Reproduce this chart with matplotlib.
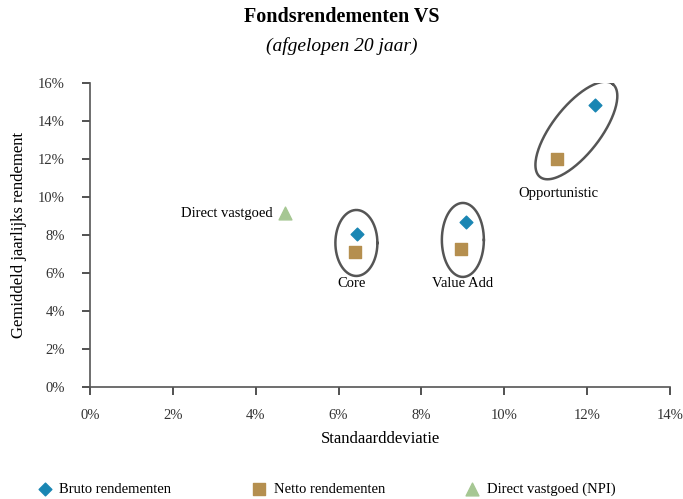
import numpy as np
from matplotlib import pyplot as plt
from matplotlib.ticker import FuncFormatter

plt.rcParams['font.family'] = ['Liberation Serif', 'DejaVu Serif']

# data (in %)
labels = ['Core', 'Value Add', 'Opportunistic']
bruto_x = [6.45, 9.08, 12.2]
bruto_y = [8.05, 8.7, 14.85]
netto_x = [6.4, 8.95, 11.28]
netto_y = [7.1, 7.25, 12.0]
direct_x = [4.7]
direct_y = [9.15]

blue = '#1a86b3'
gold = '#b58f4f'
green = '#a6c793'
grey = '#555555'

fig = plt.figure(figsize=(6.83, 4.99), dpi=100)
ax = fig.add_axes([90/683, 1-387/499, 580/683, 304/499])
ax.set_xlim(0, 14)
ax.set_ylim(0, 16)

ax.scatter(bruto_x, bruto_y, marker='D', s=42, color=blue, zorder=3, label='Bruto rendementen')
ax.scatter(netto_x, netto_y, marker='s', s=80, color=gold, zorder=3, label='Netto rendementen')
ax.scatter(direct_x, direct_y, marker='^', s=85, color=green, zorder=3, label='Direct vastgoed (NPI)')

# ellipses: center in data, semi-axes in pixels, angle in pixel space
ell = [(6.43, 7.58, 21, 33, 0), (9.0, 7.74, 21, 37, 0), (11.74, 13.5, 59, 24, 52)]
t = np.linspace(0, 2*np.pi, 200)
for (cx, cy, a, b, ang) in ell:
    c = ax.transData.transform((cx, cy))
    th = np.radians(ang)
    px = c[0] + a*np.cos(t)*np.cos(th) - b*np.sin(t)*np.sin(th)
    py = c[1] + a*np.cos(t)*np.sin(th) + b*np.sin(t)*np.cos(th)
    pts = ax.transData.inverted().transform(np.column_stack([px, py]))
    ax.plot(pts[:, 0], pts[:, 1], color=grey, lw=1.8, zorder=2)

ax.text(6.32, 5.47, 'Core', ha='center', va='center', fontsize=10.5)
ax.text(9.0, 5.47, 'Value Add', ha='center', va='center', fontsize=10.5)
ax.text(11.3, 10.2, 'Opportunistic', ha='center', va='center', fontsize=10.5)
ax.text(4.4, 9.15, 'Direct vastgoed', ha='right', va='center', fontsize=10.5)

ax.set_xticks(np.arange(0, 15, 2))
ax.set_yticks(np.arange(0, 17, 2))
fmt = FuncFormatter(lambda v, p: '%d%%' % v)
ax.xaxis.set_major_formatter(fmt)
ax.yaxis.set_major_formatter(fmt)
for s in ['top', 'right']:
    ax.spines[s].set_visible(False)
for s in ['left', 'bottom']:
    ax.spines[s].set_color(grey)
    ax.spines[s].set_linewidth(1.2)
ax.tick_params(colors='#333333', labelsize=10.5, length=6, width=1.2, direction='out')
ax.tick_params(axis='x', pad=10)
ax.tick_params(axis='y', pad=12)

ax.set_xlabel('Standaarddeviatie', fontsize=12, labelpad=6)
ax.set_ylabel('Gemiddeld jaarlijks rendement', fontsize=12, labelpad=8)

fig.text(0.5, 1-17/499, 'Fondsrendementen VS', ha='center', va='center', fontsize=14.5, fontweight='bold')
fig.text(0.5, 1-46/499, '(afgelopen 20 jaar)', ha='center', va='center', fontsize=14, style='italic')

fig.legend(loc='center left', bbox_to_anchor=(39/683, 1-489/499), ncol=3, frameon=False,
           fontsize=10.5, columnspacing=5.6, handlelength=0.8, handletextpad=0.6,
           borderpad=0, borderaxespad=0, scatterpoints=1)

plt.savefig('out.png', dpi=100)
